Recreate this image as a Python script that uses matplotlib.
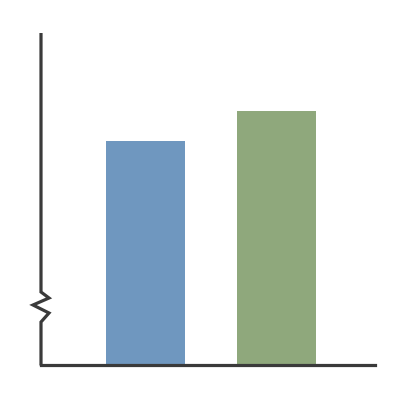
import matplotlib
matplotlib.use("Agg")
import matplotlib.pyplot as plt

# data (axis break near the bottom, so values read on a 0-100 scale)
categories = ["A", "B"]
values = [67.5, 76.5]
colors = ["#6f97bf", "#8fa87c"]

fig = plt.figure(figsize=(4, 4), dpi=100)
# axes box in pixels: left 41, right 375, top 33, bottom 365
ax = fig.add_axes([41 / 400, 35 / 400, 334 / 400, 332 / 400])

ax.bar(range(len(categories)), values, width=0.61, color=colors)
ax.set_xlim(-0.798, 1.752)
ax.set_ylim(0, 100)

line_col = "#3a3a3a"
lw = 2.3
for s in ["top", "right", "left"]:
    ax.spines[s].set_visible(False)
ax.spines["bottom"].set_color(line_col)
ax.spines["bottom"].set_linewidth(lw)
ax.set_xticks([])
ax.set_yticks([])

# left axis with a zigzag break, drawn in axes coords
def fy(py):
    return (365 - py) / 332

def fx(px):
    return (px - 41) / 334

xs = [fx(41), fx(41), fx(49), fx(33), fx(49), fx(41), fx(41)]
ys = [fy(365.5), fy(322), fy(313), fy(305), fy(298), fy(292), fy(33)]
ax.plot(xs, ys, color=line_col, lw=lw, transform=ax.transAxes,
        clip_on=False, solid_joinstyle="miter", solid_capstyle="butt")

fig.savefig("out.png", dpi=100, facecolor="white")
